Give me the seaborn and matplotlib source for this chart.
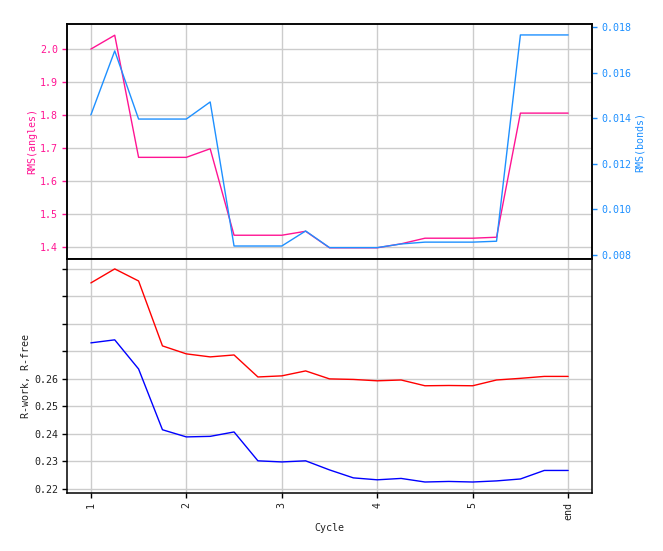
import numpy as np
import pandas as pd
import matplotlib
matplotlib.use("Agg")
import matplotlib.pyplot as plt
import seaborn as sns

cycle = [1.0, 1.25, 1.5, 1.75, 2.0, 2.25, 2.5, 2.75, 3.0, 3.25, 3.5,
         3.75, 4.0, 4.25, 4.5, 4.75, 5.0, 5.25, 5.5, 5.75, 6.0]
rms_angles = [2.000, 2.042, 1.672, 1.672, 1.672, 1.698, 1.436, 1.436, 1.436, 1.448, 1.398,
              1.398, 1.398, 1.410, 1.427, 1.427, 1.427, 1.430, 1.806, 1.806, 1.806]
rms_bonds = [0.01414, 0.01695, 0.01396, 0.01396, 0.01396, 0.01471, 0.00839, 0.00839, 0.00839,
             0.00905, 0.00832, 0.00832, 0.00832, 0.00848, 0.00856, 0.00856, 0.00856, 0.00860,
             0.01765, 0.01765, 0.01765]
r_free = [0.2949, 0.3000, 0.2956, 0.2720, 0.2691, 0.2680, 0.2687, 0.2607, 0.2611, 0.2629, 0.2600,
          0.2598, 0.2593, 0.2596, 0.2575, 0.2576, 0.2575, 0.2596, 0.2602, 0.2609, 0.2609]
r_work = [0.2731, 0.2742, 0.2636, 0.2415, 0.2389, 0.2391, 0.2407, 0.2302, 0.2298, 0.2302, 0.2269,
          0.2240, 0.2233, 0.2238, 0.2225, 0.2227, 0.2225, 0.2229, 0.2236, 0.2267, 0.2267]
xtick_pos = [1, 2, 3, 4, 5, 6]
xtick_labels = ["1", "2", "3", "4", "5", "end"]
r_ticks = [0.22, 0.23, 0.24, 0.25, 0.26, 0.27, 0.28, 0.29, 0.30]
r_tick_labels = ["0.22", "0.23", "0.24", "0.25", "0.26", "", "", "", ""]

sns.set_style("white")
plt.rcParams["font.family"] = ["DejaVu Sans Mono", "DejaVu Sans"]
plt.rcParams["font.size"] = 7.2

df = pd.DataFrame({"cycle": cycle, "angles": rms_angles, "bonds": rms_bonds,
                   "rfree": r_free, "rwork": r_work})

pink = "#ff1493"
blue = "#1e90ff"
gridc = "#cccccc"

fig = plt.figure(figsize=(6.63, 5.51), dpi=100)
ax1 = fig.add_axes([67/663, 1-259/551, (592-67)/663, (259-24)/551])
ax3 = fig.add_axes([67/663, 1-493/551, (592-67)/663, (493-259)/551], sharex=ax1)
ax2 = ax1.twinx()

sns.lineplot(data=df, x="cycle", y="angles", ax=ax1, color=pink, lw=1)
sns.lineplot(data=df, x="cycle", y="bonds", ax=ax2, color=blue, lw=1)
sns.lineplot(data=df, x="cycle", y="rfree", ax=ax3, color="red", lw=1)
sns.lineplot(data=df, x="cycle", y="rwork", ax=ax3, color="blue", lw=1)

ax1.set_xlim(0.75, 6.25)
ax1.set_ylim(1.364, 2.076)
ax2.set_ylim(0.00782, 0.01813)
ax3.set_ylim(0.2185, 0.3036)

ax1.set_yticks([1.4, 1.5, 1.6, 1.7, 1.8, 1.9, 2.0])
ax1.set_yticklabels(["1.4", "1.5", "1.6", "1.7", "1.8", "1.9", "2.0"])
ax2.set_yticks([0.008, 0.010, 0.012, 0.014, 0.016, 0.018])
ax2.set_yticklabels(["0.008", "0.010", "0.012", "0.014", "0.016", "0.018"])
ax3.set_yticks(r_ticks)
ax3.set_yticklabels(r_tick_labels)
ax3.set_xticks(xtick_pos)
ax3.set_xticklabels(xtick_labels, rotation=90)
plt.setp(ax1.get_xticklabels(), visible=False)

for ax in (ax1, ax3):
    ax.grid(True, color=gridc, lw=1)
    ax.set_axisbelow(True)
ax2.grid(False)

ax1.set_ylabel("RMS(angles)", color=pink, labelpad=2)
ax2.set_ylabel("RMS(bonds)", color=blue, labelpad=3)
ax1.set_xlabel("")
ax3.set_ylabel("R-work, R-free", color="#222222", labelpad=2)
ax3.set_xlabel("Cycle", color="#222222", labelpad=2)

ax1.tick_params(axis="y", colors=pink, labelcolor=pink, length=3.5, width=1, direction="out", left=True, pad=3)
ax1.tick_params(axis="x", length=3.5, width=1, direction="out", bottom=True, colors="black")
ax2.tick_params(axis="y", colors=blue, labelcolor=blue, length=3.5, width=1, direction="out", right=True, pad=3)
ax3.tick_params(axis="both", length=3.5, width=1, direction="out", left=True, bottom=True,
                colors="black", labelcolor="#222222", pad=3)
for ax in (ax1, ax2, ax3):
    for s in ax.spines.values():
        s.set_color("black")
        s.set_linewidth(1.1)
for t in ax1.yaxis.get_ticklines():
    t.set_color("black")
for t in ax2.yaxis.get_ticklines():
    t.set_color("black")

fig.savefig("out.png", dpi=100)
